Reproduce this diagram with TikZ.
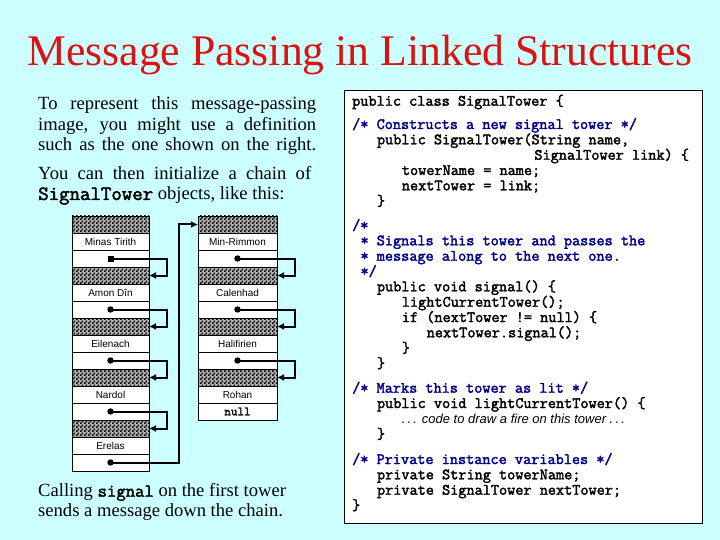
\documentclass[tikz,border=0pt]{standalone}
\usepackage{fontspec}
\setmainfont{Liberation Serif}
\setsansfont{Liberation Sans}
\newfontfamily\codefam{Latin Modern Mono}[FakeBold=2.2]
\usetikzlibrary{arrows.meta,patterns,calc}
\definecolor{bgcol}{RGB}{204,255,255}
\definecolor{titlered}{RGB}{221,17,17}
\definecolor{navy}{RGB}{0,0,140}
\pgfdeclarepatternformonly{finecheck}{\pgfqpoint{0pt}{0pt}}{\pgfqpoint{4pt}{4pt}}{\pgfqpoint{4pt}{4pt}}{%
  \pgfpathrectangle{\pgfqpoint{0pt}{0pt}}{\pgfqpoint{2pt}{2pt}}%
  \pgfpathrectangle{\pgfqpoint{2pt}{2pt}}{\pgfqpoint{2pt}{2pt}}%
  \pgfusepath{fill}}
\newcommand{\codefnt}{\codefam\fontsize{15.8}{17}\selectfont}
\begin{document}
\begin{tikzpicture}[x=1pt,y=-1pt,
  cell/.style={draw, line width=0.8pt, fill=white, minimum height=17pt, inner sep=0pt, outer sep=0pt, font=\sffamily\fontsize{10}{11}\selectfont},
  lcell/.style={cell, minimum width=77pt},
  rcell/.style={cell, minimum width=79pt},
  hatchfill/.style={fill=black!30, postaction={pattern=finecheck, pattern color=black}},
  link/.style={line width=2pt, -{Latex[length=7pt,width=7pt]}},
  code/.style={anchor=base west, inner sep=0pt, font=\codefnt},
  cmt/.style={code, text=navy},
  body/.style={anchor=base west, inner sep=0pt, font=\fontsize{18.6}{20}\selectfont}]
\useasboundingbox (0,0) rectangle (720,540);
\fill[bgcol] (0,0) rectangle (720,540);

% title
\node[anchor=base, inner sep=0pt, text=titlered, font=\fontsize{43.7}{48}\selectfont] (title) at (360,66) {Message Passing in Linked Structures};

% left text
\node[body] (t1) at (38,110) {\makebox[278pt][s]{To represent this message-passing}};
\node[body] (t2) at (38,130.3) {\makebox[278pt][s]{image, you might use a definition}};
\node[body] (t3) at (38,150.7) {\makebox[278pt][s]{such as the one shown on the right.}};
\node[body] (t4) at (38,180) {\makebox[273pt][s]{You can then initialize a chain of}};
\node[body] (t5) at (38,200) {{\codefam\fontsize{20.3}{22}\selectfont SignalTower} objects, like this:};
\node[body] (b1) at (38,496.7) {Calling {\codefam\fontsize{18.2}{20}\selectfont signal} on the first tower};
\node[body] (b2) at (38,516.7) {sends a message down the chain.};

% left tower
\foreach \n [count=\i from 0] in {Minas Tirith, Amon Dîn, Eilenach, Nardol, Erelas} {
  \node[lcell, hatchfill] (lh\i) at (110.5, 224.5+51*\i) {};
  \node[lcell] (ln\i) at (110.5, 241.5+51*\i) {\n};
  \node[lcell] (lp\i) at (110.5, 258.5+51*\i) {};
}
% right tower
\foreach \n [count=\i from 0] in {Min-Rimmon, Calenhad, Halifirien, Rohan} {
  \node[rcell, hatchfill] (rh\i) at (237.5, 224.5+51*\i) {};
  \node[rcell] (rn\i) at (237.5, 241.5+51*\i) {\n};
}
\foreach \i in {0,1,2} {
  \node[rcell] (rp\i) at (237.5, 258.5+51*\i) {};
}
\node[rcell, font=\codefam\fontsize{12.7}{14}\selectfont] (rp3) at (237.5, 411.5) {null};

% links
\foreach \i/\j in {0/1,1/2,2/3,3/4} {
  \draw[link] (lp\i.center) -- ++(56,0) |- (lh\j.east);
}
\foreach \i in {1,2,3,4} { \fill (lp\i.center) circle (3.2pt); }
\fill ($(lp0.center)+(-3,-3)$) rectangle ($(lp0.center)+(3,3)$);
\foreach \i/\j in {0/1,1/2,2/3} {
  \draw[link] (rp\i.center) -- ++(57,0) |- (rh\j.east);
  \fill (rp\i.center) circle (3.2pt);
}
\draw[link] (lp4.center) -- ++(68,0) |- (rh0.west);

% code box
\node[draw, line width=1pt, fill=white, anchor=north west, minimum width=358pt, minimum height=433pt, inner sep=0pt] (codebox) at (344,90) {};
\node[code] (c0) at (352,105.7) {public class SignalTower \{};
\node[cmt]  (c1) at (352,129) {/* Constructs a new signal tower */};
\node[code] (c2) at (376.8,144.3) {public SignalTower(String name,};
\node[code] (c3) at (534.2,159.7) {SignalTower link) \{};
\node[code] (c4) at (401.7,175) {towerName = name;};
\node[code] (c5) at (401.7,190.3) {nextTower = link;};
\node[code] (c6) at (376.8,205.7) {\}};
\node[cmt]  (c7) at (352,230) {/*};
\node[cmt]  (c8) at (360.3,245.3) {* Signals this tower and passes the};
\node[cmt]  (c9) at (360.3,260.7) {* message along to the next one.};
\node[cmt]  (c10) at (360.3,276) {*/};
\node[code] (c11) at (376.8,291.3) {public void signal() \{};
\node[code] (c12) at (401.7,306.7) {lightCurrentTower();};
\node[code] (c13) at (401.7,322) {if (nextTower != null) \{};
\node[code] (c14) at (426.5,337.3) {nextTower.signal();};
\node[code] (c15) at (401.7,352.7) {\}};
\node[code] (c16) at (376.8,368) {\}};
\node[cmt]  (c17) at (352,392.7) {/* Marks this tower as lit */};
\node[code] (c18) at (376.8,408) {public void lightCurrentTower() \{};
\node[anchor=base west, inner sep=0pt, font=\sffamily\itshape\fontsize{13}{14}\selectfont] (c19) at (401.7,423.3) {.\,.\,. code to draw a fire on this tower .\,.\,.};
\node[code] (c20) at (376.8,438.7) {\}};
\node[cmt]  (c21) at (352,464) {/* Private instance variables */};
\node[code] (c22) at (376.8,479.3) {private String towerName;};
\node[code] (c23) at (376.8,494.7) {private SignalTower nextTower;};
\node[code] (c24) at (352,510) {\}};
\end{tikzpicture}
\end{document}
